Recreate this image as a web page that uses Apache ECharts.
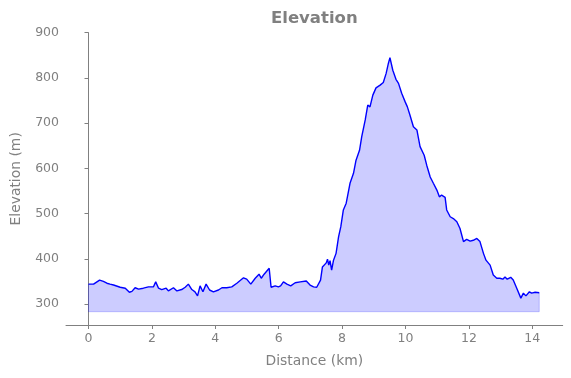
<!DOCTYPE html>
<html>
<head>
<meta charset="utf-8">
<script src="https://cdn.jsdelivr.net/npm/echarts@6/dist/echarts.min.js"></script>
<style>
  html, body { margin: 0; padding: 0; background: #fff; }
  #chart { width: 571px; height: 378px; }
</style>
</head>
<body>
<div id="chart"></div>
<script>
// distance along the route (km) and elevation (m)
const distance = [
  0, 0.16, 0.35, 0.47, 0.58, 0.63, 0.68, 0.79, 1.0, 1.16, 1.29, 1.37, 1.47, 1.58, 1.73, 1.89,
  2.05, 2.12, 2.21, 2.31, 2.45, 2.52, 2.68, 2.79, 2.94, 3.05, 3.15, 3.26, 3.36, 3.44, 3.52, 3.61,
  3.71, 3.82, 3.94, 4.10, 4.21, 4.36, 4.52, 4.68, 4.89, 4.99, 5.12, 5.26, 5.38, 5.45, 5.54, 5.70,
  5.76, 5.89, 5.99, 6.06, 6.15, 6.26, 6.38, 6.52, 6.68, 6.87, 6.99, 7.10, 7.20, 7.25, 7.32, 7.38,
  7.50, 7.54, 7.58, 7.62, 7.67, 7.73, 7.81, 7.89, 7.96, 8.04, 8.13, 8.25, 8.36, 8.44, 8.55, 8.62,
  8.73, 8.81, 8.88, 8.97, 9.07, 9.20, 9.30, 9.39, 9.46, 9.51, 9.60, 9.70, 9.78, 9.88, 9.99, 10.06,
  10.14, 10.25, 10.36, 10.46, 10.59, 10.67, 10.78, 10.88, 10.99, 11.07, 11.14, 11.25, 11.30, 11.41,
  11.51, 11.62, 11.72, 11.83, 11.93, 12.04, 12.14, 12.25, 12.35, 12.46, 12.54, 12.67, 12.77, 12.88,
  12.98, 13.07, 13.14, 13.21, 13.32, 13.40, 13.51, 13.64, 13.72, 13.80, 13.91, 13.98, 14.09, 14.22
]
const elevation = [
  344, 344, 353, 350, 346, 348, 344, 342, 337, 335, 326, 328, 336, 333, 335, 338,
  338, 349, 335, 332, 335, 329, 336, 329, 332, 337, 344, 332, 327, 318, 340, 327,
  344, 331, 327, 331, 336, 336, 338, 346, 358, 355, 344, 357, 366, 357, 366, 379,
  337, 340, 338, 340, 349, 344, 340, 347, 349, 351, 342, 338, 337, 335, 353, 382,
  391, 399, 386, 396, 375, 397, 412, 449, 471, 508, 523, 567, 589, 618, 640, 670,
  707, 740, 736, 762, 778, 784, 790, 810, 832, 845, 817, 797, 788, 766, 747, 736,
  718, 692, 685, 648, 629, 607, 581, 567, 552, 537, 541, 536, 508, 493,
  489, 482, 467, 438, 443, 439, 441, 445, 438, 412, 397, 386, 364, 357,
  357, 355, 360, 355, 359, 353, 335, 313, 324, 318, 327, 324, 326, 325
]
const fillBase = 283
const xTicks = [0, 2, 4, 6, 8, 10, 12, 14]
const yTicks = [300, 400, 500, 600, 700, 800, 900]

const profile = distance.map((d, i) => [d, elevation[i]])
const last = distance.length - 1
// outline of the filled polygon (left side, bottom, right side)
const fillEdge = [
  [distance[0], elevation[0]],
  [distance[0], fillBase],
  [distance[last], fillBase],
  [distance[last], elevation[last]],
]

const grey = '#808080'
const font = 'DejaVu Sans'

const chart = echarts.init(document.getElementById('chart'), null, { renderer: 'canvas' })

const option = {
  animation: false,
  backgroundColor: '#fff',
  title: {
    text: 'Elevation',
    left: 266,
    top: 5,
    textStyle: { color: grey, fontFamily: font, fontWeight: 'bold', fontSize: 16.5 },
  },
  grid: {
    left: 66,
    right: 8.3,
    top: 32.7,
    bottom: 53,
    outerBoundsMode: 'none',
  },
  xAxis: {
    type: 'value',
    min: -0.71,
    max: 14.96,
    name: 'Distance (km)',
    nameLocation: 'middle',
    nameGap: 29,
    nameTextStyle: { color: grey, fontFamily: font, fontSize: 13.9 },
    axisLine: { show: true, lineStyle: { color: grey, width: 1 } },
    axisTick: { show: true, length: 4, customValues: xTicks, lineStyle: { color: grey } },
    axisLabel: { customValues: xTicks, color: grey, fontFamily: font, fontSize: 12.5, margin: 7 },
    splitLine: { show: false },
  },
  yAxis: {
    type: 'value',
    min: 253.6,
    max: 900,
    name: 'Elevation (m)',
    nameLocation: 'middle',
    nameGap: 43,
    nameTextStyle: { color: grey, fontFamily: font, fontSize: 13.9 },
    axisLine: { show: true, lineStyle: { color: grey, width: 1 } },
    axisTick: { show: true, length: 4, customValues: yTicks, lineStyle: { color: grey } },
    axisLabel: { customValues: yTicks, color: grey, fontFamily: font, fontSize: 12.5, margin: 7 },
    splitLine: { show: false },
  },
  series: [
    {
      type: 'line',
      data: profile,
      symbol: 'none',
      lineStyle: { color: '#0000ff', width: 1.4 },
      areaStyle: { color: 'rgba(0,0,255,0.2)', origin: fillBase, opacity: 1 },
      z: 3,
    },
    {
      type: 'line',
      data: fillEdge,
      symbol: 'none',
      lineStyle: { color: 'rgba(0,0,255,0.2)', width: 1 },
      z: 2,
    },
  ],
}

chart.setOption(option)
window.addEventListener('resize', () => chart.resize())
</script>
</body>
</html>
